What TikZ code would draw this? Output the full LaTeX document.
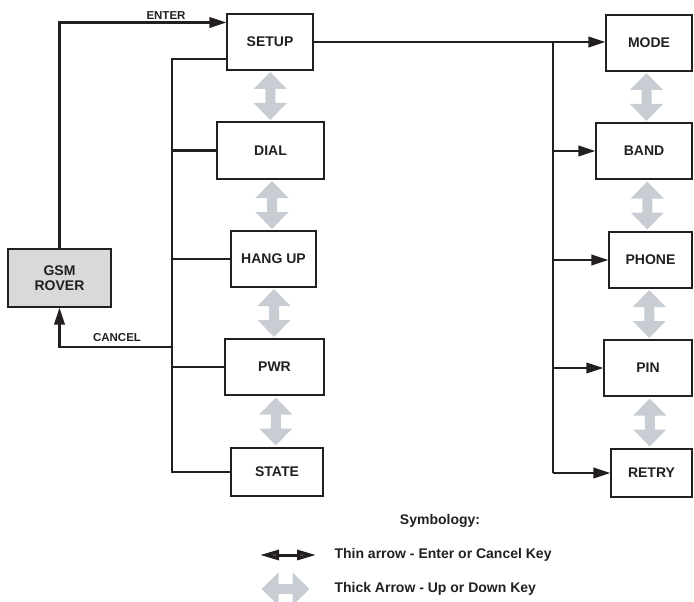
\documentclass[tikz,border=0pt]{standalone}
\usepackage{fontspec}
\setmainfont{Liberation Sans}
\usetikzlibrary{arrows.meta,calc}
\definecolor{ink}{HTML}{231F20}
\definecolor{keygray}{RGB}{200,205,211}
\definecolor{roverfill}{HTML}{D9D9D9}
\tikzset{
  menubox/.style={draw=ink,line width=1.3pt,inner sep=0pt,font=\bfseries\fontsize{14}{16}\selectfont,text=ink},
  wire/.style={draw=ink,line width=2.2pt},
  thinarrow/.style={wire,-{Triangle[length=17pt,width=10.5pt]}},
  keylabel/.style={font=\bfseries\fontsize{11.5}{13}\selectfont,text=ink},
  legendtext/.style={font=\bfseries\fontsize{14}{16}\selectfont,text=ink,anchor=west},
  updown/.pic={\fill[keygray] (0,-24) -- (16.5,-7) -- (5,-7) -- (5,7) -- (16.5,7) -- (0,24) -- (-16.5,7) -- (-5,7) -- (-5,-7) -- (-16.5,-7) -- cycle;}
}
\begin{document}
\begin{tikzpicture}[x=1pt,y=-1pt]
\useasboundingbox (0,0) rectangle (694,602);
\clip (0,0) rectangle (694,602);
% boxes
\node[menubox,minimum width=86pt,minimum height=56pt] (setup) at (270,42) {SETUP};
\node[menubox,minimum width=107pt,minimum height=57pt] (dial) at (270.5,150.5) {DIAL};
\node[menubox,minimum width=85pt,minimum height=56pt] (hangup) at (273.5,259) {HANG UP};
\node[menubox,minimum width=99pt,minimum height=56pt] (pwr) at (274.5,367) {PWR};
\node[menubox,minimum width=92pt,minimum height=48pt] (state) at (277,472) {STATE};
\node[menubox,fill=roverfill,minimum width=103pt,minimum height=58pt,align=center] (gsm) at (59.5,278) {GSM\\[-1pt]ROVER};
\node[menubox,minimum width=86pt,minimum height=56pt] (mode) at (649,43) {MODE};
\node[menubox,minimum width=96pt,minimum height=56pt] (band) at (644,151) {BAND};
\node[menubox,minimum width=83pt,minimum height=56pt] (phone) at (650.5,260) {PHONE};
\node[menubox,minimum width=88pt,minimum height=56pt] (pin) at (648,368) {PIN};
\node[menubox,minimum width=81pt,minimum height=48pt] (retry) at (651.5,473) {RETRY};
% bus coordinates
\coordinate (lbus) at (172,0);
\coordinate (rbus) at (553,0);
\coordinate (setupin) at ($(setup.north west)!0.16!(setup.south west)$);
\coordinate (setupout) at ($(setup.north west)!0.79!(setup.south west)$);
\coordinate (cancelpt) at (172,347);
% enter
\draw[thinarrow] (gsm.north) |- (setupin);
\node[keylabel] (enterlbl) at (166,15.5) {ENTER};
% left bus
\draw[wire] (setupout) -- (setupout -| lbus) -- (state.west -| lbus) -- (state.west);
\draw[wire] (dial.west -| lbus) -- (dial.west);
\draw[wire] (hangup.west -| lbus) -- (hangup.west);
\draw[wire] (pwr.west -| lbus) -- (pwr.west);
% cancel
\draw[thinarrow] (cancelpt) -| (gsm.south);
\node[keylabel] (cancellbl) at (117,338) {CANCEL};
% right bus
\draw[thinarrow] (setup.east) -- (setup.east -| mode.west);
\draw[wire] (setup.east -| rbus) -- (retry.west -| rbus);
\draw[thinarrow] (band.west -| rbus) -- (band.west);
\draw[thinarrow] (phone.west -| rbus) -- (phone.west);
\draw[thinarrow] (pin.west -| rbus) -- (pin.west);
\draw[thinarrow] (retry.west -| rbus) -- (retry.west);
% thick up/down arrows
\path ($(setup.south)!0.5!(dial.north)$) pic {updown};
\path ($(dial.south)!0.5!(hangup.north)$) pic {updown};
\path ($(hangup.south)!0.5!(pwr.north)$) pic {updown};
\path ($(pwr.south)!0.5!(state.north)$) pic {updown};
\path ($(mode.south)!0.5!(band.north)$) pic {updown};
\path ($(band.south)!0.5!(phone.north)$) pic {updown};
\path ($(phone.south)!0.5!(pin.north)$) pic {updown};
\path ($(pin.south)!0.5!(retry.north)$) pic {updown};
% legend
\node[font=\bfseries\fontsize{14}{16}\selectfont,text=ink] (symb) at (440,521) {Symbology:};
\coordinate (thinL) at (260,555);
\coordinate (thinR) at (316,555);
\draw[draw=ink,line width=3pt,{Triangle[length=19pt,width=10pt,fill=ink!85]}-{Triangle[length=19pt,width=10pt,fill=ink!85]}] (thinL) -- (thinR);
\node[legendtext] (thintext) at (331,555) {Thin arrow - Enter or Cancel Key};
\path (285.5,589) pic[rotate=90] {updown};
\node[legendtext] (thicktext) at (331,589) {Thick Arrow - Up or Down Key};
\end{tikzpicture}
\end{document}
